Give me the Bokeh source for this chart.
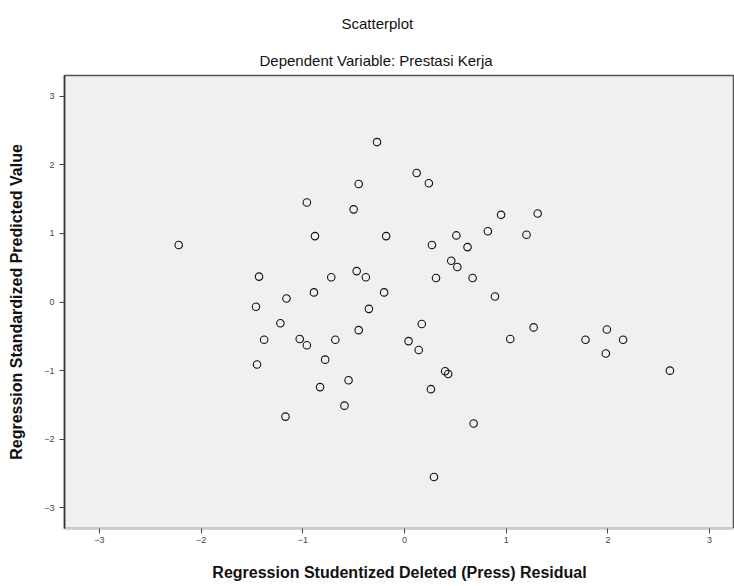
from bokeh.plotting import figure
from bokeh.models import Range1d, FixedTicker, Title
from bokeh.embed import file_html
from bokeh.resources import INLINE

# Regression Studentized Deleted (Press) Residual
resid = [-0.27, -0.45, -0.96, -0.50, -0.88, -0.18, -2.22, -1.43, -0.72, -0.47,
         -0.38, -0.89, -1.16, -0.20, -1.46, -0.35, -1.22, 0.12, 0.24, 0.95,
         1.31, 0.82, 1.20, 0.51, 0.27, 0.62, 0.46, 0.52, 0.31, 0.67,
         0.89, 0.17, -0.45, -1.38, -1.03, -0.96, -0.68, -0.78, -1.45, -0.55,
         -0.83, -0.59, -1.17, 0.04, 0.14, 1.04, 1.27, 1.78, 1.99, 2.15,
         1.98, 2.61, 0.40, 0.43, 0.26, 0.68, 0.29]
# Regression Standardized Predicted Value
pred = [2.33, 1.72, 1.45, 1.35, 0.96, 0.96, 0.83, 0.37, 0.36, 0.45,
        0.36, 0.14, 0.05, 0.14, -0.07, -0.10, -0.31, 1.88, 1.73, 1.27,
        1.29, 1.03, 0.98, 0.97, 0.83, 0.80, 0.60, 0.51, 0.35, 0.35,
        0.08, -0.32, -0.41, -0.55, -0.54, -0.63, -0.55, -0.84, -0.91, -1.14,
        -1.24, -1.51, -1.67, -0.57, -0.70, -0.54, -0.37, -0.55, -0.40, -0.55,
        -0.75, -1.00, -1.01, -1.05, -1.27, -1.77, -2.55]

ticks = [-3, -2, -1, 0, 1, 2, 3]

p = figure(width=734, height=586, output_backend="svg", toolbar_location=None,
           x_range=Range1d(-3.343, 3.245), y_range=Range1d(-3.30, 3.30),
           min_border_left=64, min_border_right=0, min_border_top=74, min_border_bottom=58)

p.background_fill_color = "#f0f0f0"
p.border_fill_color = "white"
p.outline_line_color = "#555555"
p.outline_line_width = 1.5
p.xgrid.visible = False
p.ygrid.visible = False

p.scatter(resid, pred, marker="circle", size=7.5, fill_color=None,
          line_color="#111111", line_width=1.1)

for ax in (p.xaxis[0], p.yaxis[0]):
    ax.ticker = FixedTicker(ticks=ticks)
    ax.minor_tick_line_color = None
    ax.major_tick_in = 0
    ax.major_tick_out = 5
    ax.major_tick_line_color = "#444444"
    ax.major_label_text_font = "Liberation Sans"
    ax.major_label_text_font_size = "9px"
    ax.major_label_text_color = "#444444"
    ax.axis_label_text_font = "Liberation Sans"
    ax.axis_label_text_font_style = "bold"
    ax.axis_label_text_font_size = "16px"
    ax.axis_label_text_color = "#111111"

p.xaxis[0].axis_line_color = "#cccccc"
p.yaxis[0].axis_line_color = "#333333"
p.yaxis[0].axis_line_width = 1.5
p.xaxis[0].axis_label = "Regression Studentized Deleted (Press) Residual"
p.yaxis[0].axis_label = "Regression Standardized Predicted Value"
p.xaxis[0].axis_label_standoff = 18
p.yaxis[0].axis_label_standoff = 16
p.xaxis[0].major_label_standoff = 3
p.yaxis[0].major_label_standoff = 5

sub = Title(text="Dependent Variable: Prestasi Kerja", align="left", offset=195,
            text_font="Liberation Sans", text_font_size="15px",
            text_font_style="normal", text_color="#111111", standoff=13)
main = Title(text="Scatterplot", align="left", offset=277,
             text_font="Liberation Sans", text_font_size="15px",
             text_font_style="normal", text_color="#111111", standoff=24)
p.add_layout(sub, "above")
p.add_layout(main, "above")

open("out.html", "w").write(file_html(p, INLINE))
